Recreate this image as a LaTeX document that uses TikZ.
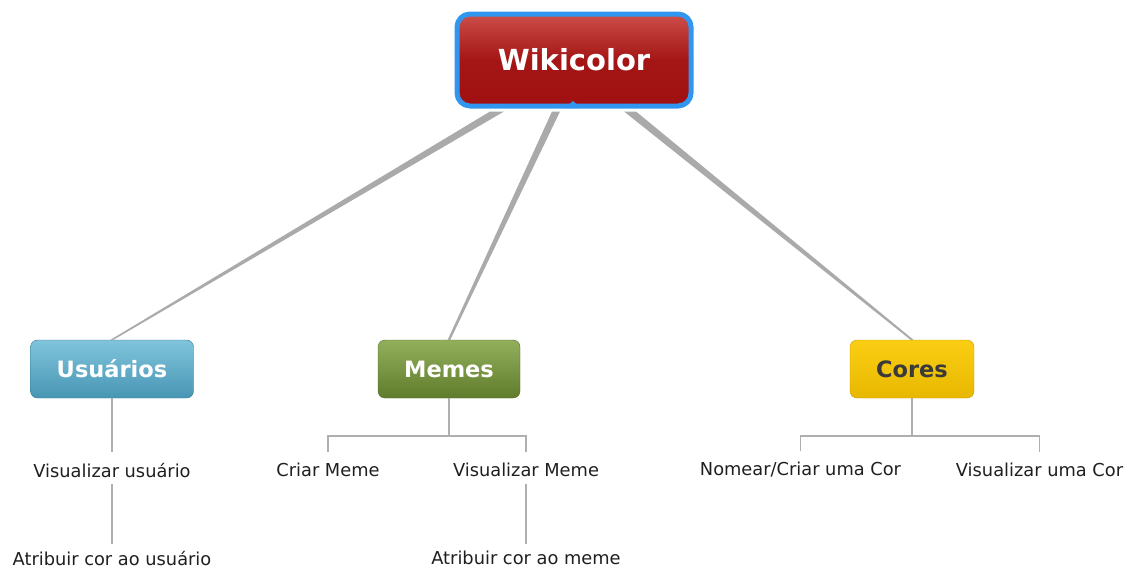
\documentclass[tikz,border=0pt]{standalone}
\usepackage{fontspec}
\setmainfont{DejaVu Sans}
\usetikzlibrary{positioning,calc,shapes}
\definecolor{rootred}{RGB}{160,16,16}
\definecolor{roottop}{RGB}{204,78,74}
\definecolor{rootblue}{RGB}{48,150,240}
\definecolor{usrtop}{RGB}{128,196,220}
\definecolor{usrbot}{RGB}{72,150,180}
\definecolor{memtop}{RGB}{146,176,92}
\definecolor{membot}{RGB}{96,124,44}
\definecolor{cortop}{RGB}{250,206,20}
\definecolor{corbot}{RGB}{232,184,0}
\definecolor{linkgray}{RGB}{170,170,170}
\definecolor{treegray}{RGB}{175,175,175}
\definecolor{txtgray}{RGB}{58,58,58}

\begin{document}
\begin{tikzpicture}[x=1pt,y=-1pt,
                root/.style={rectangle, rounded corners=13pt, draw=rootblue, line width=5pt,
                        top color=roottop, bottom color=rootred, middle color=rootred!90!roottop,
                        minimum width=234pt, minimum height=92pt,
                        text=white, font=\bfseries\fontsize{29}{34}\selectfont},
                cat/.style={rectangle, rounded corners=7pt, minimum height=58pt,
                        font=\bfseries\fontsize{22.5}{27}\selectfont},
                leaf/.style={inner xsep=2pt, inner ysep=11pt, text=black!88,
                        font=\fontsize{17.8}{21}\selectfont},
                link/.style={fill=linkgray},
                tree/.style={draw=treegray, line width=1.2pt},]
            \useasboundingbox (0,0) rectangle (1131,570);
            % main topic
            \node[root] (w) at (574,60) {Wikicolor};
            \fill[rootblue] (565,108) -- (573,101) -- (581,108) -- cycle;
            % categories
            \node[cat, minimum width=163pt, draw=usrbot!80!black, top color=usrtop, bottom color=usrbot, text=white] (u) at (112,369) {Usuários};
            \node[cat, minimum width=142pt, draw=membot!85!black, top color=memtop, bottom color=membot, text=white] (m) at (449,369) {Memes};
            \node[cat, minimum width=124pt, draw=corbot!85!black, top color=cortop, bottom color=corbot, text=txtgray] (c) at (912,369) {Cores};
            % tapered links
            \fill[link] ($(w.south)+(-84,3)$) -- ($(w.south)+(-70,3)$) -- ($(u.north)+(1.5,0)$) -- ($(u.north)+(-1.5,0)$) -- cycle;
            \fill[link] ($(w.south)+(-22,3)$) -- ($(w.south)+(-14,3)$) -- ($(m.north)+(1.3,0)$) -- ($(m.north)+(-1.3,0)$) -- cycle;
            \fill[link] ($(w.south)+(50,3)$) -- ($(w.south)+(62,3)$) -- ($(c.north)+(1.5,0)$) -- ($(c.north)+(-1.5,0)$) -- cycle;
            % leaves
            \node[leaf] (u1) at (112,470) {Visualizar usuário};
            \node[leaf] (u2) at (112,558) {Atribuir cor ao usuário};
            \node[leaf] (m1) at (328,470) {Criar Meme};
            \node[leaf] (m2) at (526,470) {Visualizar Meme};
            \node[leaf] (m3) at (526,558) {Atribuir cor ao meme};
            \node[leaf] (c1) at (800.5,470) {Nomear/Criar uma Cor};
            \node[leaf] (c2) at (1039.5,470) {Visualizar uma Cor};
            \coordinate (mj) at (449,436);
            \coordinate (cj) at (912,436);
            % branches
            \draw[tree] (u.south) -- (u1.north);
            \draw[tree] ($(u1.south)+(0,-4)$) -- ($(u2.north)+(0,4)$);
            \draw[tree] (m.south) -- (mj) -| (m1.north);
            \draw[tree] (mj) -| (m2.north);
            \draw[tree] ($(m2.south)+(0,-4)$) -- ($(m3.north)+(0,4)$);
            \draw[tree] (c.south) -- (cj) -| (c1.north);
            \draw[tree] (cj) -| (c2.north);
        \end{tikzpicture}
\end{document}
